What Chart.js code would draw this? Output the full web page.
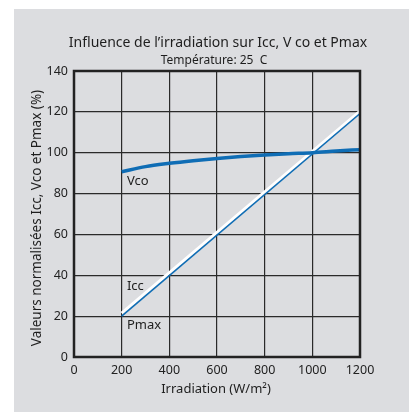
<!DOCTYPE html>
<html>
<head>
<meta charset="utf-8">
<script src="https://cdn.jsdelivr.net/npm/chart.js@4.4.1/dist/chart.umd.min.js"></script>
<style>
  html, body { margin: 0; padding: 0; background: #ffffff; }
  #wrap { width: 409px; height: 412px; }
</style>
</head>
<body>
<div id="wrap"><canvas id="irrChart" width="409" height="412"></canvas></div>
<script>
// données
var vcoX = [200, 300, 400, 500, 600, 700, 800, 900, 1000, 1100, 1200];
var vcoY = [90.7, 93.2, 94.8, 96.1, 97.2, 98.1, 98.9, 99.5, 100, 100.8, 101.5];
var iccX = [200, 1200];
var iccY = [21.5, 120.3];
var pmaxX = [200, 1200];
var pmaxY = [20, 119.2];
var xTicks = [0, 200, 400, 600, 800, 1000, 1200];
var yTicks = [0, 20, 40, 60, 80, 100, 120, 140];

var titre = 'Influence de l\u2019irradiation sur Icc, V co et Pmax';
var sousTitre = 'Température: 25  C';
var titreX = 'Irradiation (W/m\u00B2)';
var titreY = 'Valeurs normalisées Icc, Vco et Pmax (%)';

var police = '"Noto Sans", "Open Sans", sans-serif';
var bleu = '#0f6db5';
var gris = '#dcdde0';

function pts(xs, ys) {
    return xs.map(function (x, i) { return { x: x, y: ys[i] }; });
}

// fond gris, cadre et textes dessinés à la main
var decor = {
    id: 'decor',
    beforeDraw: function (chart) {
        var ctx = chart.ctx;
        ctx.save();
        ctx.fillStyle = '#ffffff';
        ctx.fillRect(0, 0, chart.width, chart.height);
        ctx.fillStyle = gris;
        ctx.fillRect(14, 9, 395, 403);
        ctx.restore();
    },
    afterDraw: function (chart) {
        var ctx = chart.ctx;
        var a = chart.chartArea;
        var sx = chart.scales.x, sy = chart.scales.y;
        ctx.save();
        ctx.strokeStyle = '#222222';
        ctx.lineWidth = 2.5;
        ctx.strokeRect(a.left, a.top, a.right - a.left, a.bottom - a.top);

        ctx.fillStyle = '#1e1e1e';
        ctx.textAlign = 'center';
        ctx.textBaseline = 'middle';
        ctx.font = '14px ' + police;
        ctx.fillText(titre, 218, 43);
        ctx.font = '12px ' + police;
        ctx.fillText(sousTitre, 214, 61);
        ctx.font = '13px ' + police;
        ctx.fillText(titreX, 216, 389);

        ctx.save();
        ctx.translate(37, 218);
        ctx.rotate(-Math.PI / 2);
        ctx.font = '13.5px ' + police;
        ctx.fillText(titreY, 0, 0);
        ctx.restore();

        // étiquettes des courbes
        ctx.textAlign = 'left';
        ctx.font = '13px ' + police;
        ctx.fillText('Vco', sx.getPixelForValue(222), sy.getPixelForValue(86));
        ctx.fillText('Icc', sx.getPixelForValue(222), sy.getPixelForValue(34.5));
        ctx.fillText('Pmax', sx.getPixelForValue(222), sy.getPixelForValue(15.5));
        ctx.restore();
    }
};

var ctx = document.getElementById('irrChart').getContext('2d');
var irrChart = new Chart(ctx, {
    type: 'line',
    data: {
        datasets: [
            {
                label: 'Icc',
                data: pts(iccX, iccY),
                borderColor: '#ffffff',
                borderWidth: 3,
                pointRadius: 0,
                order: 3
            },
            {
                label: 'Pmax',
                data: pts(pmaxX, pmaxY),
                borderColor: bleu,
                borderWidth: 1.6,
                pointRadius: 0,
                order: 2
            },
            {
                label: 'Vco',
                data: pts(vcoX, vcoY),
                borderColor: bleu,
                borderWidth: 3.5,
                pointRadius: 0,
                cubicInterpolationMode: 'monotone',
                order: 1
            }
        ]
    },
    plugins: [decor],
    options: {
        responsive: false,
        animation: false,
        layout: { padding: { left: 14, right: 49, top: 71, bottom: 10 } },
        plugins: {
            legend: { display: false },
            tooltip: { enabled: false }
        },
        scales: {
            x: {
                type: 'linear',
                min: 0,
                max: 1200,
                afterBuildTicks: function (s) { s.ticks = xTicks.map(function (v) { return { value: v }; }); },
                afterFit: function (s) { s.height = 45; },
                grid: { color: '#2a2a2a', lineWidth: 1.2, drawTicks: false },
                border: { display: false },
                ticks: {
                    color: '#222222', font: { family: police, size: 12.5 }, padding: 6, maxRotation: 0,
                    callback: function (v) { return String(v); }
                }
            },
            y: {
                min: 0,
                max: 140,
                afterBuildTicks: function (s) { s.ticks = yTicks.map(function (v) { return { value: v }; }); },
                afterFit: function (s) { s.width = 60; },
                grid: { color: '#2a2a2a', lineWidth: 1.2, drawTicks: false },
                border: { display: false },
                ticks: { color: '#222222', font: { family: police, size: 12.5 }, padding: 6 }
            }
        }
    }
});
</script>
</body>
</html>
